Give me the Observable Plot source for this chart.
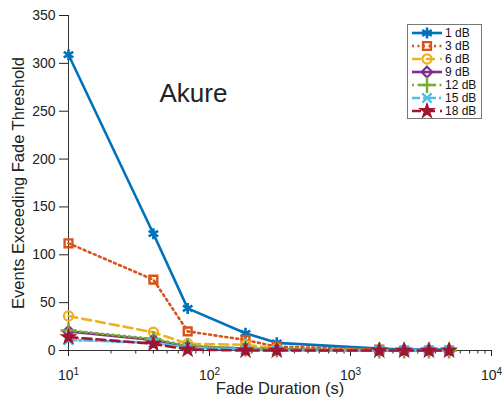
<!DOCTYPE html>
<html>
<head>
<meta charset="utf-8">
<script src="https://cdn.jsdelivr.net/npm/d3@7"></script>
<script src="https://cdn.jsdelivr.net/npm/@observablehq/plot@0.6"></script>
<style>
  html, body { margin: 0; padding: 0; background: #fff; }
  #chart { width: 503px; height: 404px; }
</style>
</head>
<body>
<div id="chart"></div>
<script>
// ---- data ----
const durations = [10, 40, 70, 180, 300, 1600, 2400, 3600, 5000];
const seriesNames = ["1 dB", "3 dB", "6 dB", "9 dB", "12 dB", "15 dB", "18 dB"];
const events1dB  = [309, 122, 44, 18, 8, 2, 1, 1, 1];
const events3dB  = [112, 74, 20, 11, 4, 1, 0, 0, 0];
const events6dB  = [36, 19, 7, 6, 2, 0, 0, 0, 0];
const events9dB  = [20, 11, 4, 2, 1, 0, 0, 0, 0];
const events12dB = [21, 12, 5, 2, 1, 0, 0, 0, 0];
const events15dB = [11, 8, 3, 1, 0, 0, 0, 0, 0];
const events18dB = [14, 7, 1, 0, 0, 0, 0, 0, 0];
const yTicks = [0, 50, 100, 150, 200, 250, 300, 350];
const xMajorTicks = [10, 100, 1000, 10000];
const xMinorTicks = [20,30,40,50,60,70,80,90,200,300,400,500,600,700,800,900,2000,3000,4000,5000,6000,7000,8000,9000];
const siteLabel = "Akure";
const xLabel = "Fade Duration (s)";
const yLabel = "Events Exceeding Fade Threshold";

// ---- styles ----
const allValues = [events1dB, events3dB, events6dB, events9dB, events12dB, events15dB, events18dB];
const colors = ["#0072BD", "#D95319", "#EDB120", "#7E2F8E", "#77AC30", "#4DBEEE", "#A2142F"];
const dashes = [null, "2,3.5", "9,5", null, "2,3.5", "8,3,2,3", "9,5"];
const symbols = ["asterisk", "square", "circle", "diamond2", "plus", "times", "star"];
const radii = [5.2, 4.4, 4.6, 4.8, 5.2, 4.3, 4.5];
const strokeWidths = [2.6, 2.4, 2.2, 2.2, 2.4, 2.4, 1.2];
const fills = ["none", "none", "none", "none", "none", "none", "#A2142F"];
const d3Symbols = {asterisk: d3.symbolAsterisk, square: d3.symbolSquare, circle: d3.symbolCircle,
  diamond2: d3.symbolDiamond2, plus: d3.symbolPlus, times: d3.symbolTimes, star: d3.symbolStar};

const rows = seriesNames.map((s, i) => durations.map((d, j) => ({d, v: allValues[i][j], s})));

const marks = [
  Plot.axisY({ticks: yTicks, tickSize: 9, tickPadding: 4, label: null, fontSize: 14}),
  Plot.axisX({ticks: xMajorTicks, tickSize: 6, tickPadding: 14, label: null, fontSize: 14,
    tickFormat: d => String(Math.round(Math.log10(d)))}),
  Plot.axisX({ticks: xMinorTicks, tickSize: 3.5, label: null, tickFormat: () => ""}),
  Plot.ruleX([10], {y1: 0, y2: 350, stroke: "#333", strokeWidth: 1}),
  Plot.ruleY([0], {x1: 10, x2: 10000, stroke: "#333", strokeWidth: 1}),
];
seriesNames.forEach((s, i) => {
  marks.push(Plot.line(rows[i], {x: "d", y: "v", stroke: colors[i], strokeWidth: 2.6,
    strokeDasharray: dashes[i] || undefined}));
  marks.push(Plot.dot(rows[i], {x: "d", y: "v", symbol: symbols[i], r: radii[i],
    stroke: colors[i], fill: fills[i], strokeWidth: strokeWidths[i]}));
});
marks.push(Plot.text([siteLabel], {frameAnchor: "top-left", dx: 91, dy: 68, textAnchor: "start", fontSize: 26}));
marks.push(Plot.text([xLabel], {frameAnchor: "bottom", dy: 43, textAnchor: "middle", fontSize: 16.5}));
marks.push(Plot.text([yLabel], {frameAnchor: "left", dx: -50, rotate: -90, textAnchor: "middle", fontSize: 16.5}));

const chart = Plot.plot({
  width: 503, height: 404,
  marginLeft: 68, marginRight: 12, marginTop: 15, marginBottom: 54,
  x: {type: "log", domain: [10, 10000]},
  y: {domain: [0, 350]},
  style: {fontFamily: "'Liberation Sans', Arial, sans-serif", fontSize: "14px", color: "#222", background: "#fff"},
  marks
});
document.getElementById("chart").appendChild(chart);

// superscript exponents on the log axis tick labels
const svg = d3.select(chart);
svg.selectAll('g[aria-label="x-axis tick label"] text').each(function() {
  const t = d3.select(this);
  const e = t.text();
  if (!e) return;
  t.text("10");
  t.append("tspan").attr("dy", "-0.55em").attr("font-size", "10px").text(e);
});

// legend
const lg = svg.append("g").attr("font-family", "'Liberation Sans', Arial, sans-serif")
  .attr("font-size", 12).attr("text-anchor", "start");
lg.append("rect").attr("x", 407.5).attr("y", 24.5).attr("width", 74).attr("height", 94)
  .attr("fill", "#fff").attr("stroke", "#777").attr("stroke-width", 1);
seriesNames.forEach((s, i) => {
  const cy = 33 + i * 13;
  lg.append("line").attr("x1", 412).attr("x2", 442).attr("y1", cy).attr("y2", cy)
    .attr("stroke", colors[i]).attr("stroke-width", 2.6).attr("stroke-dasharray", dashes[i] || null);
  const area = Math.PI * radii[i] * radii[i];
  lg.append("path").attr("d", d3.symbol(d3Symbols[symbols[i]], area)())
    .attr("transform", `translate(427,${cy})`)
    .attr("fill", fills[i]).attr("stroke", colors[i]).attr("stroke-width", strokeWidths[i]);
  lg.append("text").attr("x", 445).attr("y", cy).attr("dy", "0.35em")
    .attr("text-anchor", "start").attr("fill", "#111").text(s);
});
</script>
</body>
</html>
